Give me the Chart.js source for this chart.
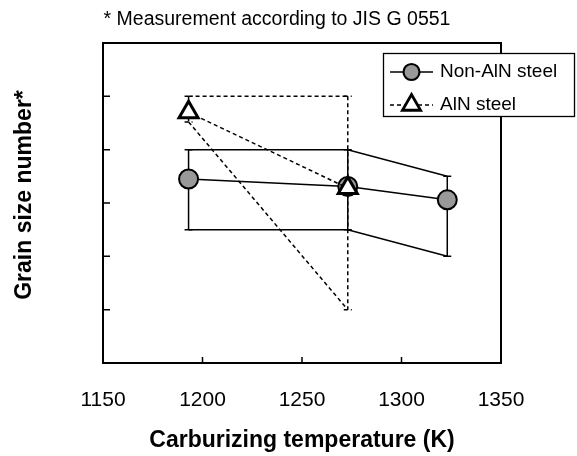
<!DOCTYPE html>
<html>
<head>
<meta charset="utf-8">
<script src="https://cdn.jsdelivr.net/npm/chart.js@4/dist/chart.umd.min.js"></script>
<style>
    body { margin: 0; background: #fff; }
</style>
</head>
<body>
<canvas id="grainChart" width="577" height="456"></canvas>
<script>
// Non-AlN steel: carburizing temperature (K), grain size number, range
var nonAlnTemps = [1193, 1273, 1323];
var nonAlnGrain = [3.45, 3.31, 3.06];
var nonAlnMax = [4.0, 4.0, 3.5];
var nonAlnMin = [2.5, 2.5, 2.0];

// AlN steel
var alnTemps = [1193, 1273];
var alnGrain = [4.70, 3.28];
var alnMax = [5.0, 5.0];
var alnMin = [4.52, 1.0];

// axis ticks (y ticks carry no labels in the original)
var xTicks = [1150, 1200, 1250, 1300, 1350];
var yTicks = [0, 1, 2, 3, 4, 5, 6];

var FONT = '"Liberation Sans", Arial, sans-serif';
var DASH = [4, 3];
var LINE_W = 1.5;

function toPoints(xs, ys) {
    return xs.map(function (x, i) { return { x: x, y: ys[i] }; });
}

function envelope(xs, ys, dash) {
    return {
        data: toPoints(xs, ys),
        borderColor: '#000',
        borderWidth: LINE_W,
        borderDash: dash,
        pointRadius: 0,
        fill: false,
        order: 5
    };
}

// error bars, frame, inner tick marks, titles and legend
var extrasPlugin = {
    id: 'extras',
    beforeDatasetsDraw: function (chart) {
        var ctx = chart.ctx, xs = chart.scales.x, ys = chart.scales.y;

        function bars(temps, lo, hi, dash) {
            ctx.setLineDash(dash);
            temps.forEach(function (t, i) {
                var px = xs.getPixelForValue(t);
                var top = ys.getPixelForValue(hi[i]);
                var bot = ys.getPixelForValue(lo[i]);
                ctx.beginPath();
                ctx.moveTo(px, top);
                ctx.lineTo(px, bot);
                ctx.moveTo(px - 4, top);
                ctx.lineTo(px + 4, top);
                ctx.moveTo(px - 4, bot);
                ctx.lineTo(px + 4, bot);
                ctx.stroke();
            });
        }

        ctx.save();
        ctx.strokeStyle = '#000';
        ctx.lineWidth = LINE_W;
        bars(nonAlnTemps, nonAlnMin, nonAlnMax, []);
        bars(alnTemps, alnMin, alnMax, DASH);
        ctx.restore();
    },
    afterDraw: function (chart) {
        var ctx = chart.ctx, a = chart.chartArea;
        var xs = chart.scales.x, ys = chart.scales.y;
        ctx.save();
        ctx.strokeStyle = '#000';
        ctx.setLineDash([]);

        // plot frame
        ctx.lineWidth = 2;
        ctx.strokeRect(a.left, a.top, a.right - a.left, a.bottom - a.top);

        // inner tick marks
        ctx.lineWidth = 1.5;
        ctx.beginPath();
        yTicks.slice(1, -1).forEach(function (v) {
            var py = ys.getPixelForValue(v);
            ctx.moveTo(a.left, py);
            ctx.lineTo(a.left + 7, py);
        });
        xTicks.slice(1, -1).forEach(function (v) {
            var px = xs.getPixelForValue(v);
            ctx.moveTo(px, a.bottom);
            ctx.lineTo(px, a.bottom - 6);
        });
        ctx.stroke();

        // title line above the plot
        ctx.fillStyle = '#000';
        ctx.font = '19.5px ' + FONT;
        ctx.textAlign = 'center';
        ctx.textBaseline = 'middle';
        ctx.fillText('* Measurement according to JIS G 0551', 277, 20);

        // y axis title
        ctx.save();
        ctx.translate(25, 195);
        ctx.rotate(-Math.PI / 2);
        ctx.font = 'bold 23px ' + FONT;
        ctx.fillText('Grain size number*', 0, 0);
        ctx.restore();

        // legend box
        ctx.fillStyle = '#fff';
        ctx.fillRect(383, 53, 192, 64);
        ctx.lineWidth = 1.3;
        ctx.strokeRect(383.5, 53.5, 191, 63);

        var rows = [
            { label: 'Non-AlN steel', y: 72, dash: [], style: 'circle', r: 8, fill: '#999', bw: 2.2 },
            { label: 'AlN steel', y: 105, dash: DASH, style: 'triangle', r: 10.5, fill: '#fff', bw: 2.8 }
        ];
        rows.forEach(function (row) {
            ctx.setLineDash(row.dash);
            ctx.lineWidth = LINE_W;
            ctx.strokeStyle = '#000';
            ctx.beginPath();
            ctx.moveTo(390, row.y);
            ctx.lineTo(433, row.y);
            ctx.stroke();
            ctx.setLineDash([]);
            ctx.fillStyle = row.fill;
            ctx.lineWidth = row.bw;
            Chart.helpers.drawPoint(ctx, { pointStyle: row.style, radius: row.r, borderWidth: row.bw, rotation: 0 }, 411.5, row.y);
            ctx.fillStyle = '#000';
            ctx.font = '19px ' + FONT;
            ctx.textAlign = 'left';
            ctx.textBaseline = 'middle';
            ctx.fillText(row.label, 440, row.y);
        });
        ctx.restore();
    }
};

var config = {
    type: 'line',
    data: {
        datasets: [
            envelope(nonAlnTemps, nonAlnMax, []),
            envelope(nonAlnTemps, nonAlnMin, []),
            envelope(alnTemps, alnMax, DASH),
            envelope(alnTemps, alnMin, DASH),
            {
                label: 'Non-AlN steel',
                data: toPoints(nonAlnTemps, nonAlnGrain),
                borderColor: '#000',
                borderWidth: LINE_W,
                pointStyle: 'circle',
                pointRadius: 9.5,
                pointBackgroundColor: '#999',
                pointBorderColor: '#000',
                pointBorderWidth: 2,
                fill: false,
                order: 2
            },
            {
                label: 'AlN steel',
                data: toPoints(alnTemps, alnGrain),
                borderColor: '#000',
                borderWidth: LINE_W,
                borderDash: DASH,
                pointStyle: 'triangle',
                pointRadius: 11,
                pointBackgroundColor: '#fff',
                pointBorderColor: '#000',
                pointBorderWidth: 3,
                fill: false,
                order: 1
            }
        ]
    },
    options: {
        responsive: false,
        animation: false,
        layout: { padding: { top: 43, right: 76, left: 0, bottom: 0 } },
        plugins: {
            legend: { display: false },
            tooltip: { enabled: false },
            title: { display: false }
        },
        scales: {
            x: {
                type: 'linear',
                min: xTicks[0],
                max: xTicks[xTicks.length - 1],
                afterBuildTicks: function (scale) {
                    scale.ticks = xTicks.map(function (v) { return { value: v }; });
                },
                afterFit: function (scale) { scale.height = 93; },
                grid: { display: false, drawTicks: false },
                border: { display: false },
                ticks: {
                    color: '#000',
                    padding: 25,
                    maxRotation: 0,
                    font: { family: FONT, size: 21 },
                    callback: function (value) { return String(value); }
                },
                title: {
                    display: true,
                    text: 'Carburizing temperature (K)',
                    color: '#000',
                    font: { family: FONT, size: 23, weight: 'bold' },
                    padding: { top: 0, bottom: 2 }
                }
            },
            y: {
                min: yTicks[0],
                max: yTicks[yTicks.length - 1],
                afterBuildTicks: function (scale) {
                    scale.ticks = yTicks.map(function (v) { return { value: v }; });
                },
                afterFit: function (scale) { scale.width = 103; },
                grid: { display: false, drawTicks: false },
                border: { display: false },
                ticks: { display: false }
            }
        }
    },
    plugins: [extrasPlugin]
};

var chart = new Chart(document.getElementById('grainChart').getContext('2d'), config);
</script>
</body>
</html>
